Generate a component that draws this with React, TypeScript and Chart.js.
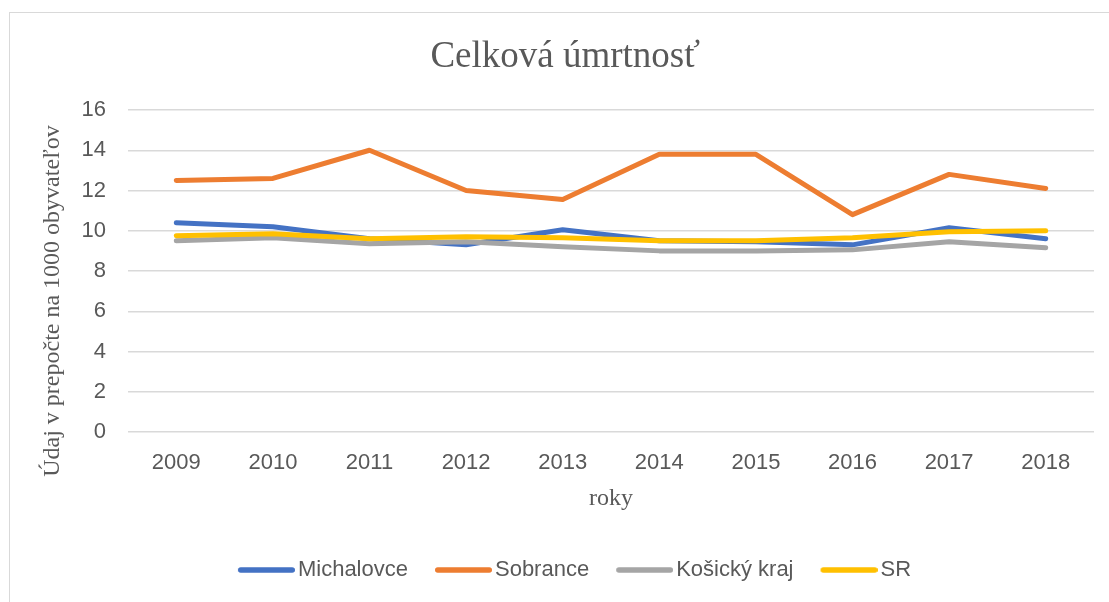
import React, { useEffect, useRef } from "react";
import { Chart, registerables } from "chart.js";

Chart.register(...registerables);

const years = ["2009", "2010", "2011", "2012", "2013", "2014", "2015", "2016", "2017", "2018"];
const michalovce = [10.4, 10.2, 9.6, 9.3, 10.05, 9.5, 9.45, 9.3, 10.15, 9.6];
const sobrance = [12.5, 12.6, 14.0, 12.0, 11.55, 13.8, 13.8, 10.8, 12.8, 12.1];
const kosickyKraj = [9.5, 9.65, 9.35, 9.45, 9.2, 9.0, 9.0, 9.05, 9.45, 9.15];
const sr = [9.75, 9.85, 9.6, 9.7, 9.65, 9.5, 9.5, 9.65, 9.95, 10.0];

const seriesNames = ["Michalovce", "Sobrance", "Košický kraj", "SR"];
const seriesColors = ["#4472C4", "#ED7D31", "#A5A5A5", "#FFC000"];

const chartTitle = "Celková úmrtnosť";
const xTitle = "roky";
const yTitle = "Údaj v prepočte na 1000 obyvateľov";

const TEXT = "#595959";
const SANS = "'Liberation Sans', Arial, sans-serif";
const SERIF = "'Liberation Serif', 'Times New Roman', serif";

function legendLine(color: string): HTMLCanvasElement {
  const c = document.createElement("canvas");
  c.width = 65;
  c.height = 8;
  const ctx = c.getContext("2d");
  if (ctx) {
    ctx.strokeStyle = color;
    ctx.lineWidth = 5.5;
    ctx.lineCap = "round";
    ctx.beginPath();
    ctx.moveTo(8 + 2.75, 4);
    ctx.lineTo(65 - 2.75, 4);
    ctx.stroke();
  }
  return c;
}

export default function App() {
  const canvasRef = useRef<HTMLCanvasElement | null>(null);

  useEffect(() => {
    if (!canvasRef.current) return;
    const values = [michalovce, sobrance, kosickyKraj, sr];
    const chart = new Chart(canvasRef.current, {
      type: "line",
      data: {
        labels: years,
        datasets: values.map((v, i) => ({
          label: seriesNames[i],
          data: v,
          borderColor: seriesColors[i],
          backgroundColor: seriesColors[i],
          borderWidth: 5,
          borderJoinStyle: "round" as const,
          borderCapStyle: "round" as const,
          pointRadius: 0,
          pointHoverRadius: 0,
          pointStyle: legendLine(seriesColors[i]),
          tension: 0,
          order: 4 - i,
        })),
      },
      options: {
        animation: false,
        responsive: true,
        maintainAspectRatio: false,
        events: [],
        layout: { padding: { top: 12, left: 42, right: 2, bottom: 11 } },
        plugins: {
          title: {
            display: true,
            text: chartTitle + "  ",
            color: TEXT,
            font: { family: SERIF, size: 37, weight: "normal" },
            padding: { top: 22.8, bottom: 30.8 },
          },
          legend: {
            position: "bottom",
            labels: {
              usePointStyle: true,
              pointStyleWidth: 49,
              padding: 27,
              color: TEXT,
              font: { family: SANS, size: 22 },
              sort: (a: any, b: any) => a.datasetIndex - b.datasetIndex,
            },
          },
          tooltip: { enabled: false },
        },
        scales: {
          x: {
            type: "category",
            offset: true,
            grid: { display: false },
            border: { display: false },
            ticks: {
              color: TEXT,
              font: { family: SANS, size: 22 },
              padding: 10,
              maxRotation: 0,
              autoSkip: false,
            },
            title: {
              display: true,
              text: xTitle,
              color: TEXT,
              font: { family: SERIF, size: 24 },
              padding: { top: -1.8, bottom: 18.6 },
            },
          },
          y: {
            min: 0,
            max: 16,
            ticks: {
              stepSize: 2,
              color: TEXT,
              font: { family: SANS, size: 22 },
              padding: 22,
            },
            grid: { color: "#D9D9D9", lineWidth: 1.5, drawTicks: false },
            border: { display: false },
            title: {
              display: true,
              text: yTitle + "          ",
              color: TEXT,
              font: { family: SERIF, size: 24 },
              padding: { top: -3.4, bottom: 0 },
            },
            afterFit: (s: any) => {
              s.width = 86;
            },
          },
          y2: {
            position: "right",
            min: 0,
            max: 1,
            grid: { display: false },
            border: { display: false },
            ticks: { display: false },
            afterFit: (s: any) => {
              s.width = 13;
            },
          },
        },
      } as any,
    });
    return () => chart.destroy();
  }, []);

  return (
    <div
      style={{
        position: "fixed",
        left: 0,
        top: 0,
        width: 1109,
        height: 602,
        background: "#FFFFFF",
        overflow: "hidden",
      }}
    >
      <div
        style={{
          position: "absolute",
          left: 9,
          top: 12,
          width: 1200,
          height: 700,
          borderLeft: "1.5px solid #D9D9D9",
          borderTop: "1.5px solid #D9D9D9",
        }}
      />
      <div style={{ position: "absolute", left: 0, top: 0, width: 1109, height: 602 }}>
        <canvas ref={canvasRef} />
      </div>
    </div>
  );
}
